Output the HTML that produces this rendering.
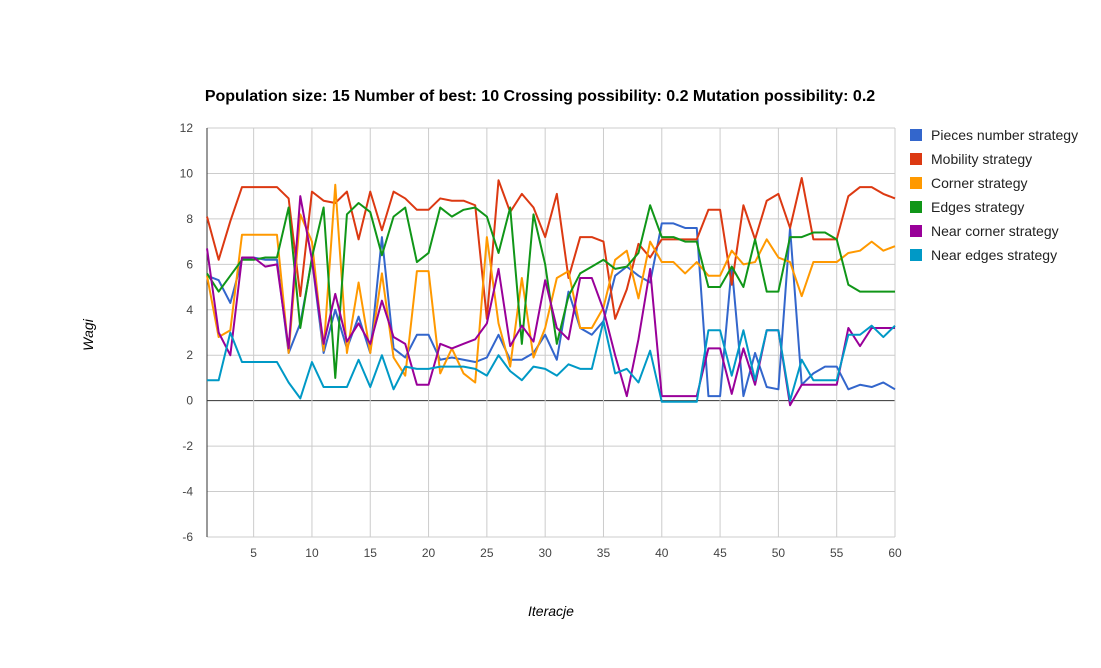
<!DOCTYPE html>
<html><head><meta charset="utf-8"><style>
body{margin:0;background:#fff;font-family:"Liberation Sans",Arial,sans-serif}
svg text{font-family:"Liberation Sans",Arial,sans-serif}
</style></head><body>
<svg id="chart" width="1101" height="663" xmlns="http://www.w3.org/2000/svg">
<rect width="1101" height="663" fill="#fff"/>
<text x="540" y="101" text-anchor="middle" font-size="16" font-weight="bold">Population size: 15 Number of best: 10 Crossing possibility: 0.2 Mutation possibility: 0.2</text>
<g id="grid"></g><g id="series"></g><g id="legend"></g>
<text transform="translate(93,335) rotate(-90)" text-anchor="middle" font-size="14" font-style="italic">Wagi</text>
<text x="551" y="616" text-anchor="middle" font-size="14" font-style="italic">Iteracje</text>
</svg>
<script>
const yTicks=[-6,-4,-2,0,2,4,6,8,10,12];
const xTicks=[5,10,15,20,25,30,35,40,45,50,55,60];
const seriesNames=["Pieces number strategy","Mobility strategy","Corner strategy","Edges strategy","Near corner strategy","Near edges strategy"];
const colors=["#3366cc","#dc3912","#ff9900","#109618","#990099","#0099c6"];
const pieces=[5.5,5.3,4.3,6.2,6.3,6.2,6.2,2.1,3.4,6.2,2.1,4.0,2.3,3.7,2.1,7.2,2.3,1.9,2.9,2.9,1.8,1.9,1.8,1.7,1.9,2.9,1.8,1.8,2.1,2.9,1.8,4.8,3.2,2.9,3.5,5.5,5.9,5.5,5.2,7.8,7.8,7.6,7.6,0.2,0.2,5.9,0.2,2.1,0.6,0.5,7.6,0.7,1.2,1.5,1.5,0.5,0.7,0.6,0.8,0.5];
const mobility=[8.1,6.2,7.9,9.4,9.4,9.4,9.4,8.9,4.6,9.2,8.8,8.7,9.2,7.1,9.2,7.5,9.2,8.9,8.4,8.4,8.9,8.8,8.8,8.6,3.6,9.7,8.3,9.1,8.5,7.2,9.1,5.4,7.2,7.2,7.0,3.6,4.9,6.9,6.3,7.1,7.1,7.1,7.1,8.4,8.4,5.1,8.6,7.1,8.8,9.1,7.6,9.8,7.1,7.1,7.1,9.0,9.4,9.4,9.1,8.9];
const corner=[5.5,2.8,3.1,7.3,7.3,7.3,7.3,2.1,8.2,7.0,2.2,9.5,2.1,5.2,2.1,5.6,1.9,1.1,5.7,5.7,1.2,2.3,1.2,0.8,7.2,3.4,1.5,5.4,1.9,3.2,5.4,5.7,3.2,3.2,4.1,6.2,6.6,4.5,7.0,6.1,6.1,5.6,6.1,5.5,5.5,6.6,6.0,6.1,7.1,6.3,6.1,4.6,6.1,6.1,6.1,6.5,6.6,7.0,6.6,6.8];
const edges=[5.6,4.8,5.5,6.2,6.2,6.3,6.3,8.5,3.2,6.3,8.5,1.0,8.2,8.7,8.3,6.4,8.1,8.5,6.1,6.5,8.5,8.1,8.4,8.5,8.1,6.5,8.5,2.5,8.2,6.0,2.5,4.6,5.6,5.9,6.2,5.8,5.9,6.5,8.6,7.2,7.2,7.0,7.0,5.0,5.0,5.9,5.0,7.1,4.8,4.8,7.2,7.2,7.4,7.4,7.1,5.1,4.8,4.8,4.8,4.8];
const nearCorner=[6.7,3.0,2.0,6.3,6.3,5.9,6.0,2.3,9.0,6.2,2.5,4.7,2.6,3.4,2.5,4.4,2.8,2.5,0.7,0.7,2.5,2.3,2.5,2.7,3.4,5.8,2.4,3.3,2.6,5.3,3.2,2.7,5.4,5.4,4.0,2.0,0.2,2.7,5.8,0.2,0.2,0.2,0.2,2.3,2.3,0.3,2.3,0.7,3.1,3.1,-0.2,0.7,0.7,0.7,0.7,3.2,2.4,3.2,3.2,3.2];
const nearEdges=[0.9,0.9,3.0,1.7,1.7,1.7,1.7,0.8,0.1,1.7,0.6,0.6,0.6,1.8,0.6,2.0,0.5,1.5,1.4,1.4,1.5,1.5,1.5,1.4,1.1,2.0,1.3,0.9,1.5,1.4,1.1,1.6,1.4,1.4,3.5,1.2,1.4,0.8,2.2,-0.05,-0.05,-0.05,-0.05,3.1,3.1,1.1,3.1,0.9,3.1,3.1,0.0,1.8,0.9,0.9,0.9,2.9,2.9,3.3,2.8,3.3];
const allSeries=[pieces,mobility,corner,edges,nearCorner,nearEdges];
const NS="http://www.w3.org/2000/svg";
const X0=207,X1=895,Y0=128,Y1=537;
function xs(i){return X0+(i-1)*(X1-X0)/59;}
function ys(v){return Y0+(12-v)*(Y1-Y0)/18;}
function mk(t,a,p){const e=document.createElementNS(NS,t);for(const k in a)e.setAttribute(k,a[k]);p.appendChild(e);return e;}
const grid=document.getElementById('grid');
yTicks.forEach(v=>{
  const l=mk('line',{x1:X0,x2:X1,y1:ys(v),y2:ys(v),stroke:v===0?'#333':'#ccc','stroke-width':1},grid);
  
  
  const t=mk('text',{x:193,y:ys(v)+4,'text-anchor':'end','font-size':12,fill:'#444'},grid);
  t.textContent=v;
  
  
});
xTicks.forEach(v=>{
  const l=mk('line',{x1:xs(v),x2:xs(v),y1:Y0,y2:Y1,stroke:'#ccc','stroke-width':1},grid);
  
  
  const t=mk('text',{x:xs(v),y:557,'text-anchor':'middle','font-size':12,fill:'#444'},grid);
  t.textContent=v;
  
  
});
const ax=mk('line',{x1:X0,x2:X0,y1:Y0,y2:Y1,stroke:'#333','stroke-width':1},grid);


const sg=document.getElementById('series'),lg=document.getElementById('legend');
allSeries.forEach((d,k)=>{
  const p=mk('polyline',{points:d.map((v,i)=>xs(i+1)+','+ys(v)).join(' '),fill:'none',stroke:colors[k],'stroke-width':2,'stroke-linejoin':'round'},sg);
  
  
  const y=135+k*24;
  const g=mk('g',{},lg);
  
  
  mk('rect',{x:910,y:y-6,width:12,height:12,fill:colors[k]},g);
  const t=mk('text',{x:931,y:y+5,'font-size':14,fill:'#222'},g);
  t.textContent=seriesNames[k];
});
</script>
</body></html>
